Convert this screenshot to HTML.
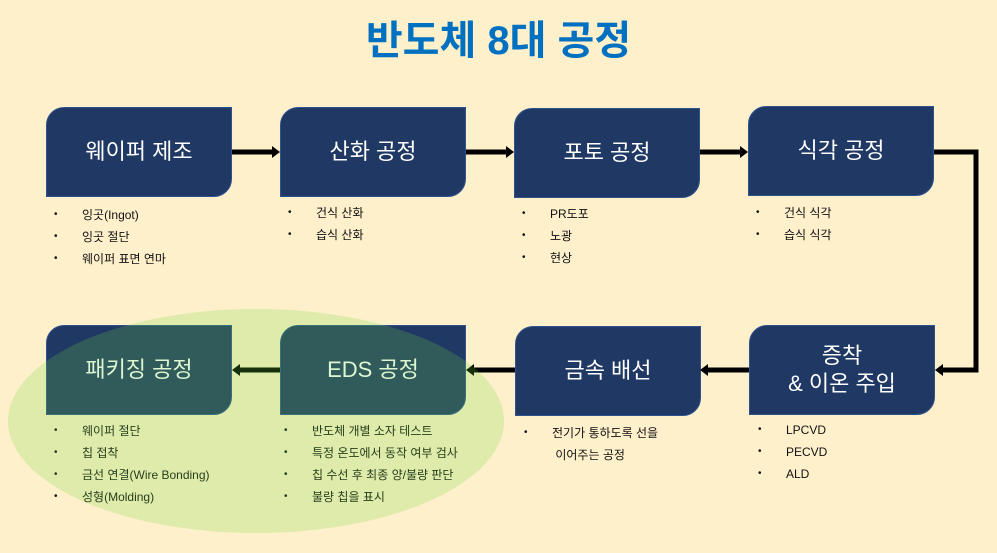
<!DOCTYPE html>
<html><head><meta charset="utf-8"><style>
*{margin:0;padding:0;box-sizing:border-box}
body{width:997px;height:553px;background:#FFF0CC;position:relative;overflow:hidden;font-family:"Liberation Sans","Noto Sans CJK KR",sans-serif}
.t{position:absolute;left:0;width:997px;top:8px;text-align:center;font-size:40px;font-weight:bold;color:#0070C0;letter-spacing:0px}
.b{position:absolute;width:186px;height:90px;background:#203864;border:1px solid #2F528F;border-radius:18px 0 18px 0;color:#fff;font-size:22px;display:flex;align-items:center;justify-content:center;text-align:center;line-height:28px}
.l{position:absolute;font-size:12px;color:#111;line-height:22px}
.l div{position:relative;padding-left:28px}
.l div:before{content:"•";position:absolute;left:0;font-size:10px}
svg{position:absolute;left:0;top:0}
</style></head><body>
<div class="t">반도체 8대 공정</div>
<div class="b" style="left:46px;top:107px">웨이퍼 제조</div>
<div class="b" style="left:280px;top:107px">산화 공정</div>
<div class="b" style="left:514px;top:108px">포토 공정</div>
<div class="b" style="left:748px;top:106px">식각 공정</div>
<div class="b" style="left:46px;top:325px">패키징 공정</div>
<div class="b" style="left:280px;top:325px">EDS 공정</div>
<div class="b" style="left:515px;top:326px">금속 배선</div>
<div class="b" style="left:749px;top:325px">증착<br>&amp; 이온 주입</div>

<div class="l" style="left:54px;top:204px"><div>잉곳(Ingot)</div><div>잉곳 절단</div><div>웨이퍼 표면 연마</div></div>
<div class="l" style="left:288px;top:202px"><div>건식 산화</div><div>습식 산화</div></div>
<div class="l" style="left:522px;top:203px"><div>PR도포</div><div>노광</div><div>현상</div></div>
<div class="l" style="left:756px;top:202px"><div>건식 식각</div><div>습식 식각</div></div>
<div class="l" style="left:54px;top:420px"><div>웨이퍼 절단</div><div>칩 접착</div><div>금선 연결(Wire Bonding)</div><div>성형(Molding)</div></div>
<div class="l" style="left:284px;top:420px"><div>반도체 개별 소자 테스트</div><div>특정 온도에서 동작 여부 검사</div><div>칩 수선 후 최종 양/불량 판단</div><div>불량 칩을 표시</div></div>
<div class="l" style="left:524px;top:422px"><div>전기가 통하도록 선을<br>&nbsp;이어주는 공정</div></div>
<div class="l" style="left:758px;top:419px"><div>LPCVD</div><div>PECVD</div><div>ALD</div></div>

<svg width="997" height="553">
<g stroke="#000" stroke-width="5" fill="none">
<line x1="232" y1="152" x2="274" y2="152"/>
<line x1="466" y1="152" x2="508" y2="152"/>
<line x1="700" y1="152" x2="742" y2="152"/>
<polyline points="934,152 976,152 976,370 941,370"/>
<line x1="749" y1="370" x2="706" y2="370"/>
<line x1="515" y1="370" x2="473" y2="370"/>
<line x1="280" y1="370" x2="239" y2="370"/>
</g>
<g fill="#000">
<polygon points="280,152 272,146 272,158"/>
<polygon points="514,152 506,146 506,158"/>
<polygon points="748,152 740,146 740,158"/>
<polygon points="935,370 943,364 943,376"/>
<polygon points="700,370 708,364 708,376"/>
<polygon points="466,370 474,364 474,376"/>
<polygon points="232,370 240,364 240,376"/>
</g>
<ellipse cx="256" cy="421" rx="248" ry="112" fill="rgb(105,220,55)" fill-opacity="0.22"/>
</svg>
</body></html>
